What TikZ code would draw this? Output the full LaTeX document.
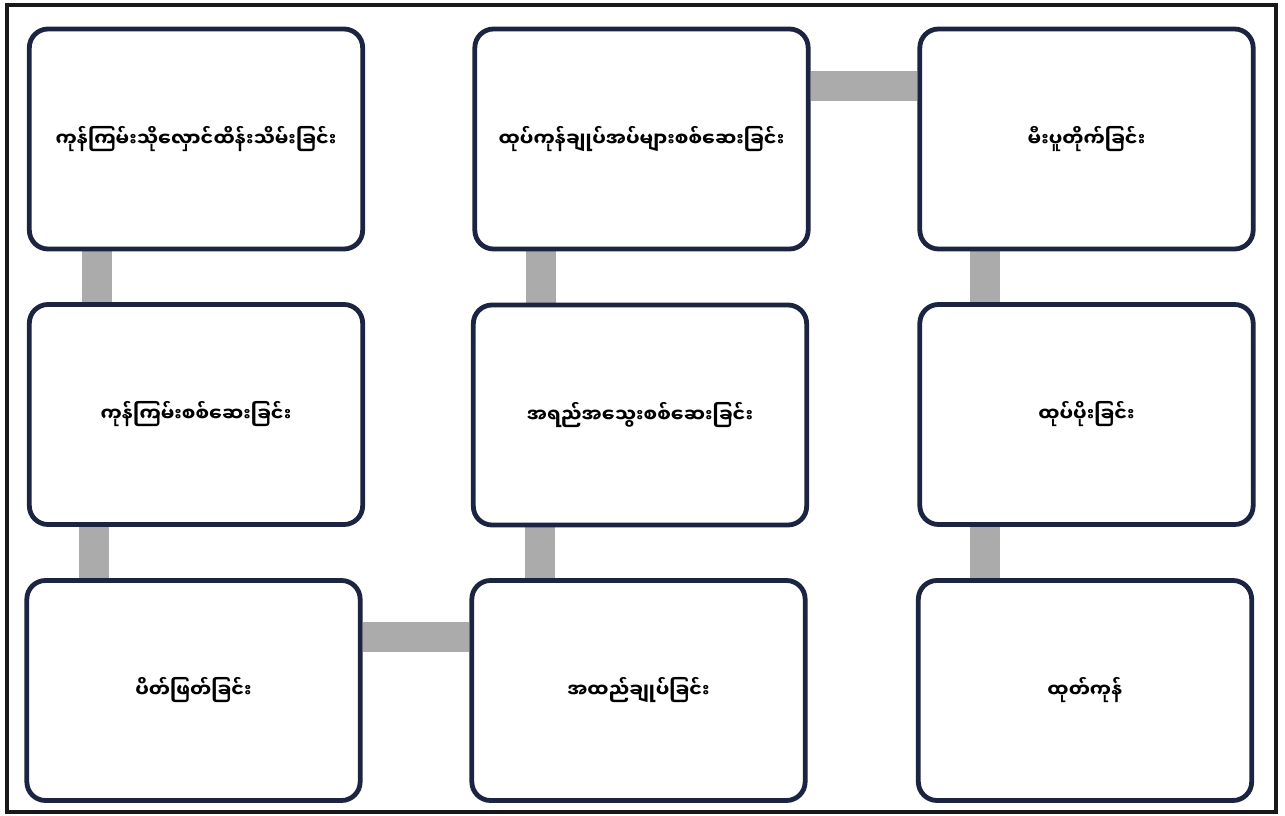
\documentclass[tikz,border=0pt]{standalone}
\usepackage{fontspec}
\newfontfamily\mmfont[Script=Myanmar]{Noto Sans Myanmar UI}
\usetikzlibrary{backgrounds}
\definecolor{boxc}{HTML}{1B2440}
\definecolor{barc}{HTML}{ABABAB}
\tikzset{
  box/.style={draw=boxc, line width=3.6pt, rounded corners=14pt, fill=white,
    minimum width=250pt, minimum height=165pt, inner sep=0pt, font=\mmfont\bfseries\fontsize{14.3}{17}\selectfont},
  bar/.style={draw=barc, line width=22pt},
  frame/.style={draw=black!90, line width=2.4pt}
}
\begin{document}
\begin{tikzpicture}[x=0.75pt,y=-0.75pt]
\useasboundingbox (0,0) rectangle (1285,816);
\node[frame, minimum width=1269*0.75pt, minimum height=807*0.75pt, inner sep=0pt] (fr) at (641.5,408.5) {};
\node[box] (n1) at (196,139) {ကုန်ကြမ်းသိုလှောင်ထိန်းသိမ်းခြင်း};
\node[box] (n2) at (641.5,139) {ထုပ်ကုန်ချုပ်အပ်များစစ်ဆေးခြင်း};
\node[box] (n3) at (1086.5,139) {မီးပူတိုက်ခြင်း};
\node[box] (n4) at (196,414.5) {ကုန်ကြမ်းစစ်ဆေးခြင်း};
\node[box] (n5) at (640,415) {အရည်အသွေးစစ်ဆေးခြင်း};
\node[box] (n6) at (1086.5,414.5) {ထုပ်ပိုးခြင်း};
\node[box] (n7) at (193.5,690.5) {ပိတ်ဖြတ်ခြင်း};
\node[box] (n8) at (638.5,690.5) {အထည်ချုပ်ခြင်း};
\node[box] (n9) at (1085,690.5) {ထုတ်ကုန်};
\coordinate (c14) at (97,0);
\coordinate (c47) at (94,0);
\coordinate (c85) at (540,0);
\coordinate (c52) at (541,0);
\coordinate (c36) at (985,0);
\coordinate (c69) at (985,0);
\coordinate (r78) at (0,637);
\coordinate (r23) at (0,86);
\begin{scope}[on background layer]
\draw[bar] (n1.south -| c14) -- (n4.north -| c14);
\draw[bar] (n4.south -| c47) -- (n7.north -| c47);
\draw[bar] (n7.east |- r78) -- (n8.west |- r78);
\draw[bar] (n8.north -| c85) -- (n5.south -| c85);
\draw[bar] (n5.north -| c52) -- (n2.south -| c52);
\draw[bar] (n2.east |- r23) -- (n3.west |- r23);
\draw[bar] (n3.south -| c36) -- (n6.north -| c36);
\draw[bar] (n6.south -| c69) -- (n9.north -| c69);
\end{scope}
\end{tikzpicture}
\end{document}
